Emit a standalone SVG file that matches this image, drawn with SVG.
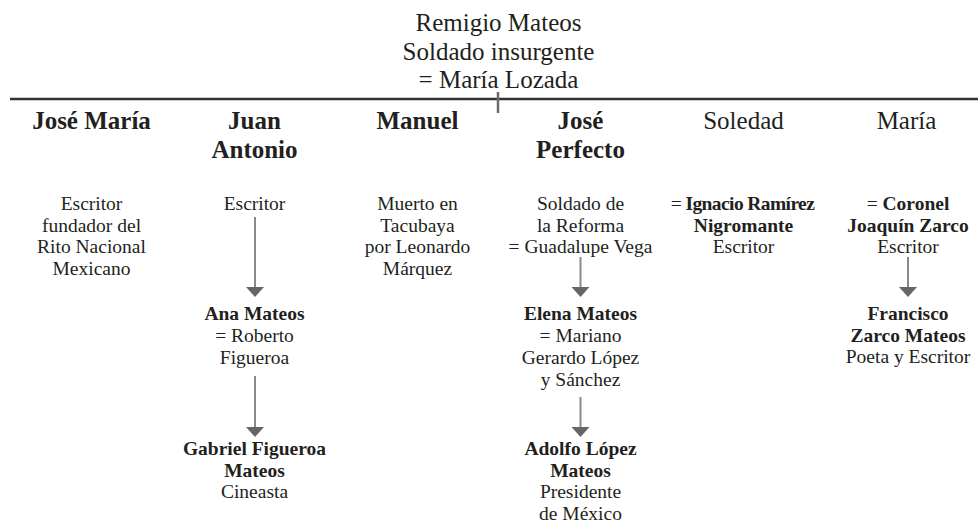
<svg xmlns="http://www.w3.org/2000/svg" width="978" height="524" viewBox="0 0 978 524">
<style>
text{font-family:"Liberation Serif","Times New Roman",serif;fill:#231f20;text-anchor:middle}
.top{font-size:25px}
.h{font-size:25px;font-weight:bold}
.hr{font-size:25px}
.t{font-size:19.5px}
.b{font-weight:bold}
.conn{stroke:#8a8a8a;stroke-width:2;fill:none}
</style>
<defs>
<marker id="ah" markerUnits="userSpaceOnUse" markerWidth="10" markerHeight="18" viewBox="0 0 10 18" refX="0" refY="9" orient="auto">
<path d="M0,0 L10,9 L0,18 z" fill="#666"/>
</marker>
</defs>
<rect width="978" height="524" fill="#fff"/>
<g id="remigio">
<text class="top" x="498.5" y="31">Remigio Mateos</text>
<text class="top" x="498.5" y="60">Soldado insurgente</text>
<text class="top" x="498.5" y="88">= María Lozada</text>
</g>
<g id="connectors">
<line x1="10" y1="99" x2="978" y2="99" stroke="#333" stroke-width="2.5"/>
<line x1="498" y1="92" x2="498" y2="113" stroke="#6b6b6b" stroke-width="2.5"/>
<line class="conn" x1="255" y1="217" x2="255" y2="287" marker-end="url(#ah)"/>
<line class="conn" x1="255" y1="376" x2="255" y2="427" marker-end="url(#ah)"/>
<line class="conn" x1="580.5" y1="257" x2="580.5" y2="287" marker-end="url(#ah)"/>
<line class="conn" x1="580.5" y1="397" x2="580.5" y2="427" marker-end="url(#ah)"/>
<line class="conn" x1="908" y1="257" x2="908" y2="287" marker-end="url(#ah)"/>
</g>
<g id="jose-maria">
<text class="h" x="91.5" y="129">José María</text>
<text class="t" x="91.5" y="210">Escritor</text>
<text class="t" x="91.5" y="232">fundador del</text>
<text class="t" x="91.5" y="253">Rito Nacional</text>
<text class="t" x="91.5" y="275">Mexicano</text>
</g>
<g id="juan-antonio">
<text class="h" x="254.5" y="129">Juan</text>
<text class="h" x="254.5" y="158">Antonio</text>
<text class="t" x="254.5" y="210">Escritor</text>
</g>
<g id="ana-mateos">
<text class="t b" x="254.5" y="320">Ana Mateos</text>
<text class="t" x="254.5" y="342">= Roberto</text>
<text class="t" x="254.5" y="364">Figueroa</text>
</g>
<g id="gabriel-figueroa">
<text class="t b" x="254.5" y="455">Gabriel Figueroa</text>
<text class="t b" x="254.5" y="477">Mateos</text>
<text class="t" x="254.5" y="498">Cineasta</text>
</g>
<g id="manuel">
<text class="h" x="417.5" y="129">Manuel</text>
<text class="t" x="417.5" y="210">Muerto en</text>
<text class="t" x="417.5" y="232">Tacubaya</text>
<text class="t" x="417.5" y="253">por Leonardo</text>
<text class="t" x="417.5" y="275">Márquez</text>
</g>
<g id="jose-perfecto">
<text class="h" x="580.5" y="129">José</text>
<text class="h" x="580.5" y="158">Perfecto</text>
<text class="t" x="580.5" y="210">Soldado de</text>
<text class="t" x="580.5" y="232">la Reforma</text>
<text class="t" x="580.5" y="253">= Guadalupe Vega</text>
</g>
<g id="elena-mateos">
<text class="t b" x="580.5" y="320">Elena Mateos</text>
<text class="t" x="580.5" y="342">= Mariano</text>
<text class="t" x="580.5" y="364">Gerardo López</text>
<text class="t" x="580.5" y="386">y Sánchez</text>
</g>
<g id="adolfo-lopez">
<text class="t b" x="580.5" y="455">Adolfo López</text>
<text class="t b" x="580.5" y="477">Mateos</text>
<text class="t" x="580.5" y="498">Presidente</text>
<text class="t" x="580.5" y="520">de México</text>
</g>
<g id="soledad">
<text class="hr" x="743.5" y="129">Soledad</text>
<text class="t" x="742.5" y="210" letter-spacing="-0.6">= <tspan class="b">Ignacio Ramírez</tspan></text>
<text class="t b" x="743.5" y="232">Nigromante</text>
<text class="t" x="743.5" y="253">Escritor</text>
</g>
<g id="maria">
<text class="hr" x="906.5" y="129">María</text>
<text class="t" x="908" y="210">= <tspan class="b">Coronel</tspan></text>
<text class="t b" x="908" y="232">Joaquín Zarco</text>
<text class="t" x="908" y="253">Escritor</text>
</g>
<g id="francisco-zarco">
<text class="t b" x="908" y="320">Francisco</text>
<text class="t b" x="908" y="342">Zarco Mateos</text>
<text class="t" x="908" y="363">Poeta y Escritor</text>
</g>
</svg>
